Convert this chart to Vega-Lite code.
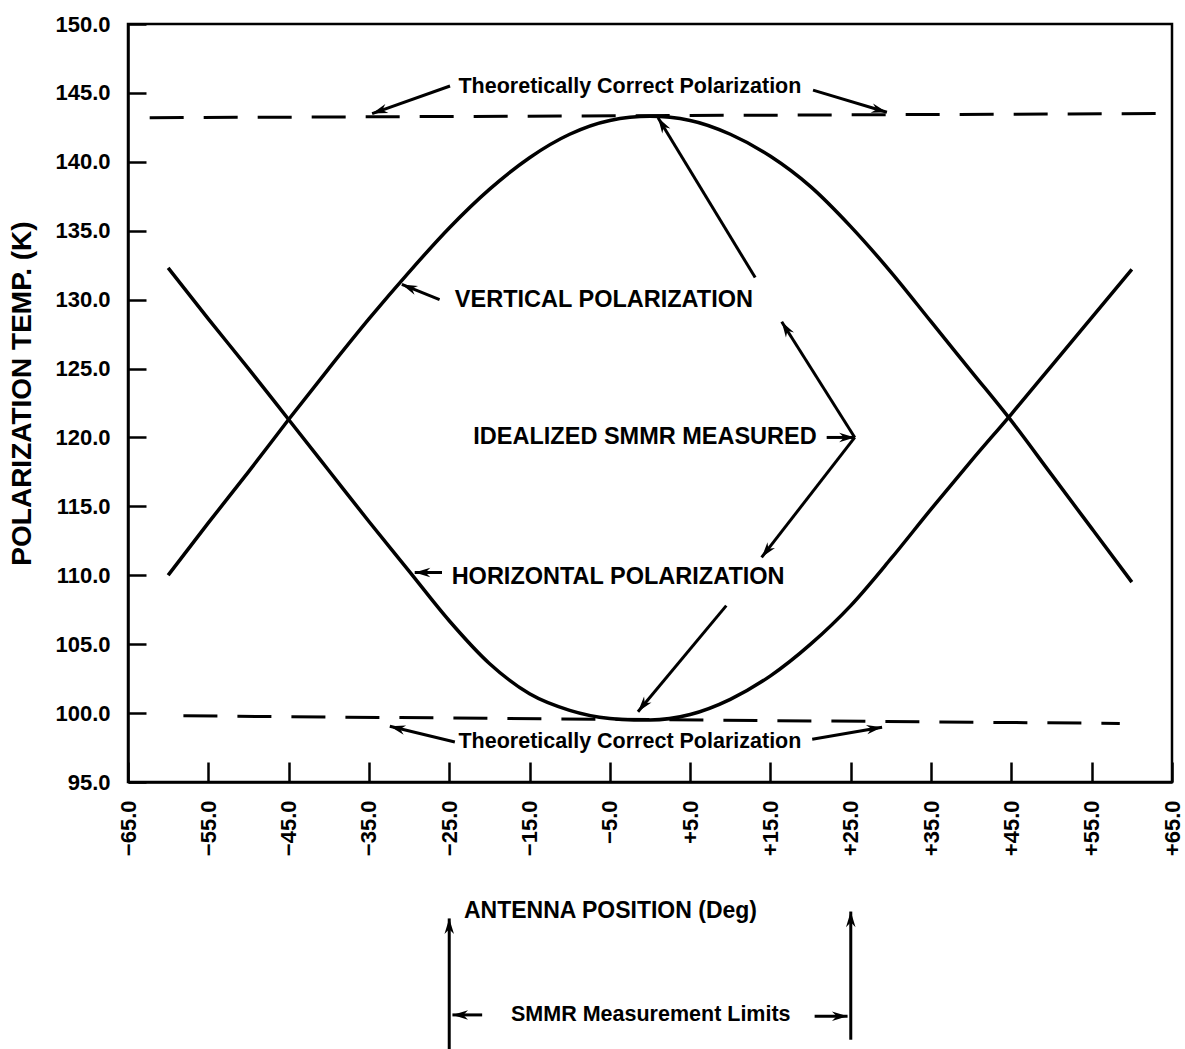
{
  "$schema": "https://vega.github.io/schema/vega-lite/v6.json",
  "width": 1044,
  "height": 758,
  "autosize": {"type": "none"},
  "padding": {"left": 128, "top": 24, "right": 13, "bottom": 267},
  "background": "white",
  "config": {
    "view": {"stroke": "black", "strokeWidth": 2.5},
    "font": "Liberation Sans",
    "axis": {
      "labelFont": "Liberation Sans", "labelFontWeight": "bold", "labelFontSize": 22, "labelColor": "black",
      "titleFont": "Liberation Sans", "titleFontWeight": "bold", "titleColor": "black",
      "tickColor": "black", "tickWidth": 2.5, "domainColor": "black", "domainWidth": 2.5,
      "grid": false, "labelFlush": false, "labelOverlap": false, "labelBound": false
    }
  },
  "datasets": {
    "curves": [
      {"pos": -60, "temp": 110.0, "series": "Vertical"},
      {"pos": -55, "temp": 113.8, "series": "Vertical"},
      {"pos": -50, "temp": 117.5, "series": "Vertical"},
      {"pos": -45, "temp": 121.3, "series": "Vertical"},
      {"pos": -40, "temp": 125.0, "series": "Vertical"},
      {"pos": -35, "temp": 128.6, "series": "Vertical"},
      {"pos": -30, "temp": 132.0, "series": "Vertical"},
      {"pos": -25, "temp": 135.2, "series": "Vertical"},
      {"pos": -20, "temp": 138.0, "series": "Vertical"},
      {"pos": -15, "temp": 140.3, "series": "Vertical"},
      {"pos": -10, "temp": 142.0, "series": "Vertical"},
      {"pos": -5, "temp": 143.0, "series": "Vertical"},
      {"pos": 0, "temp": 143.3, "series": "Vertical"},
      {"pos": 5, "temp": 143.0, "series": "Vertical"},
      {"pos": 10, "temp": 142.0, "series": "Vertical"},
      {"pos": 15, "temp": 140.4, "series": "Vertical"},
      {"pos": 20, "temp": 138.2, "series": "Vertical"},
      {"pos": 25, "temp": 135.3, "series": "Vertical"},
      {"pos": 30, "temp": 132.0, "series": "Vertical"},
      {"pos": 35, "temp": 128.4, "series": "Vertical"},
      {"pos": 40, "temp": 124.8, "series": "Vertical"},
      {"pos": 45, "temp": 121.2, "series": "Vertical"},
      {"pos": 50, "temp": 117.3, "series": "Vertical"},
      {"pos": 55, "temp": 113.4, "series": "Vertical"},
      {"pos": 60, "temp": 109.5, "series": "Vertical"},
      {"pos": -60, "temp": 132.3, "series": "Horizontal"},
      {"pos": -55, "temp": 128.6, "series": "Horizontal"},
      {"pos": -50, "temp": 125.0, "series": "Horizontal"},
      {"pos": -45, "temp": 121.3, "series": "Horizontal"},
      {"pos": -40, "temp": 117.6, "series": "Horizontal"},
      {"pos": -35, "temp": 113.9, "series": "Horizontal"},
      {"pos": -30, "temp": 110.3, "series": "Horizontal"},
      {"pos": -25, "temp": 106.7, "series": "Horizontal"},
      {"pos": -20, "temp": 103.6, "series": "Horizontal"},
      {"pos": -15, "temp": 101.4, "series": "Horizontal"},
      {"pos": -10, "temp": 100.2, "series": "Horizontal"},
      {"pos": -5, "temp": 99.6, "series": "Horizontal"},
      {"pos": -2, "temp": 99.5, "series": "Horizontal"},
      {"pos": 0, "temp": 99.5, "series": "Horizontal"},
      {"pos": 5, "temp": 99.9, "series": "Horizontal"},
      {"pos": 10, "temp": 101.0, "series": "Horizontal"},
      {"pos": 15, "temp": 102.7, "series": "Horizontal"},
      {"pos": 20, "temp": 105.0, "series": "Horizontal"},
      {"pos": 25, "temp": 107.8, "series": "Horizontal"},
      {"pos": 30, "temp": 111.2, "series": "Horizontal"},
      {"pos": 35, "temp": 114.8, "series": "Horizontal"},
      {"pos": 40, "temp": 118.3, "series": "Horizontal"},
      {"pos": 45, "temp": 121.7, "series": "Horizontal"},
      {"pos": 50, "temp": 125.2, "series": "Horizontal"},
      {"pos": 55, "temp": 128.7, "series": "Horizontal"},
      {"pos": 60, "temp": 132.2, "series": "Horizontal"}
    ],
    "dashed": [
      {"pos": -62.3, "temp": 143.2, "line": "top"},
      {"pos": 63.5, "temp": 143.5, "line": "top"},
      {"pos": -58.1, "temp": 99.8, "line": "bottom"},
      {"pos": 58.5, "temp": 99.25, "line": "bottom"}
    ],
    "arrows": [
      {"x": -24.9, "y": 145.5, "x2": -34.6, "y2": 143.5, "ang": 251},
      {"x": 20.3, "y": 145.2, "x2": 29.5, "y2": 143.6, "ang": 105},
      {"x": -26.2, "y": 130.0, "x2": -30.9, "y2": 131.1, "ang": 292},
      {"x": 13.1, "y": 131.6, "x2": 1.0, "y2": 143.2, "ang": 328},
      {"x": 22.0, "y": 120.0, "x2": 25.5, "y2": 120.0, "ang": 90},
      {"x": 25.5, "y": 120.0, "x2": 16.4, "y2": 128.4, "ang": 328},
      {"x": 25.5, "y": 120.0, "x2": 13.9, "y2": 111.3, "ang": 218},
      {"x": -25.9, "y": 110.2, "x2": -29.3, "y2": 110.2, "ang": 270},
      {"x": 9.5, "y": 107.8, "x2": -1.5, "y2": 100.1, "ang": 219},
      {"x": -24.3, "y": 97.9, "x2": -32.4, "y2": 99.05, "ang": 285},
      {"x": 20.2, "y": 98.1, "x2": 28.9, "y2": 98.98, "ang": 81},
      {"x": -25, "y": 74.0, "x2": -25, "y2": 85.1, "ang": 0},
      {"x": 25, "y": 76.3, "x2": 25, "y2": 85.6, "ang": 0},
      {"x": -20.9, "y": 78.1, "x2": -24.6, "y2": 78.1, "ang": 270},
      {"x": 20.5, "y": 78.0, "x2": 24.6, "y2": 78.0, "ang": 90}
    ],
    "labels": [
      {"x": -2.5, "y": 145.4, "text": "Theoretically Correct Polarization", "kind": "small"},
      {"x": -2.5, "y": 97.9, "text": "Theoretically Correct Polarization", "kind": "small"},
      {"x": 0.1, "y": 78.1, "text": "SMMR Measurement Limits", "kind": "small"},
      {"x": -24.3, "y": 130.0, "text": "VERTICAL POLARIZATION", "kind": "caps"},
      {"x": -22.0, "y": 120.0, "text": "IDEALIZED SMMR MEASURED", "kind": "caps"},
      {"x": -24.7, "y": 109.9, "text": "HORIZONTAL POLARIZATION", "kind": "caps"}
    ]
  },
  "layer": [
    {
      "data": {"name": "curves"},
      "mark": {"type": "line", "color": "black", "strokeWidth": 3.5, "interpolate": "monotone"},
      "encoding": {
        "x": {
          "field": "pos", "type": "quantitative",
          "scale": {"domain": [-65, 65], "nice": false, "zero": false},
          "axis": {
            "values": [-65, -55, -45, -35, -25, -15, -5, 5, 15, 25, 35, 45, 55, 65],
            "format": "+.1f", "labelAngle": -90, "tickSize": -20, "labelPadding": 38,
            "title": "ANTENNA POSITION (Deg)", "titleFontSize": 23,
            "titleX": 482, "titleY": 128, "titleBaseline": "middle", "titleAlign": "center"
          }
        },
        "y": {
          "field": "temp", "type": "quantitative",
          "scale": {"domain": [95, 150], "nice": false, "zero": false},
          "axis": {
            "values": [95, 100, 105, 110, 115, 120, 125, 130, 135, 140, 145, 150],
            "format": ".1f", "tickSize": -18, "labelPadding": 36,
            "title": "POLARIZATION TEMP. (K)", "titleFontSize": 28,
            "titleX": -106, "titleY": 369, "titleBaseline": "middle", "titleAlign": "center", "titleAngle": 270
          }
        },
        "detail": {"field": "series", "type": "nominal"}
      }
    },
    {
      "data": {"name": "dashed"},
      "mark": {"type": "line", "color": "black", "strokeWidth": 3, "strokeDash": [34, 20]},
      "encoding": {
        "x": {"field": "pos", "type": "quantitative"},
        "y": {"field": "temp", "type": "quantitative"},
        "detail": {"field": "line", "type": "nominal"}
      }
    },
    {
      "data": {"name": "arrows"},
      "mark": {"type": "rule", "color": "black", "strokeWidth": 3},
      "encoding": {
        "x": {"field": "x", "type": "quantitative"},
        "y": {"field": "y", "type": "quantitative"},
        "x2": {"field": "x2"},
        "y2": {"field": "y2"}
      }
    },
    {
      "data": {"name": "arrows"},
      "mark": {"type": "point", "shape": "M0,0L0.55,1.8L0,1.25L-0.55,1.8Z", "filled": true, "color": "black", "opacity": 1, "size": 300},
      "encoding": {
        "x": {"field": "x2", "type": "quantitative"},
        "y": {"field": "y2", "type": "quantitative"},
        "angle": {"field": "ang", "type": "quantitative", "scale": null}
      }
    },
    {
      "data": {"name": "labels"},
      "transform": [{"filter": "datum.kind === 'caps'"}],
      "mark": {"type": "text", "align": "left", "baseline": "middle", "fontSize": 23.5, "fontWeight": "bold", "font": "Liberation Sans", "color": "black"},
      "encoding": {
        "x": {"field": "x", "type": "quantitative"},
        "y": {"field": "y", "type": "quantitative"},
        "text": {"field": "text"}
      }
    },
    {
      "data": {"name": "labels"},
      "transform": [{"filter": "datum.kind === 'small'"}],
      "mark": {"type": "text", "align": "center", "baseline": "middle", "fontSize": 21.5, "fontWeight": "bold", "font": "Liberation Sans", "color": "black"},
      "encoding": {
        "x": {"field": "x", "type": "quantitative"},
        "y": {"field": "y", "type": "quantitative"},
        "text": {"field": "text"}
      }
    }
  ]
}
